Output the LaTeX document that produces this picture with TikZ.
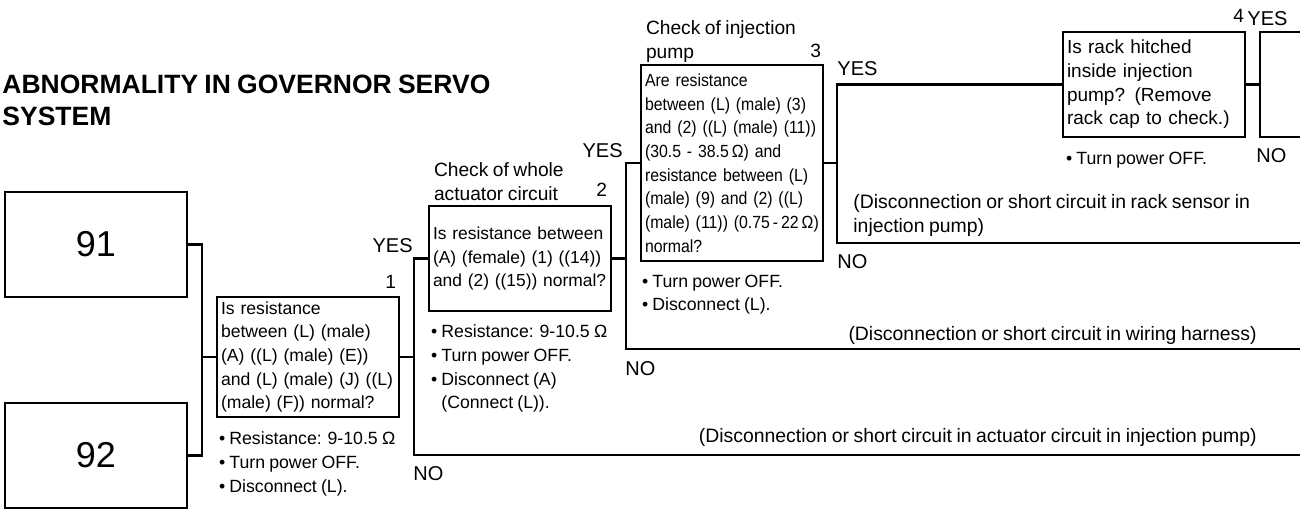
\documentclass[tikz,border=0pt]{standalone}
\usepackage{fontspec}
\setmainfont{Liberation Sans}[WordSpace=0.85]
\usetikzlibrary{positioning}

\tikzstyle{codebox} = [rectangle, minimum width=91pt, minimum height=52.5pt, draw=black, line width=1.4pt, font=\fontsize{18}{20}\selectfont]
\tikzstyle{checkbox} = [rectangle, text width=87pt, inner xsep=2pt, inner ysep=0pt, align=left, draw=black, line width=1.4pt]
\tikzstyle{note} = [anchor=north west, inner sep=0pt, align=left, font=\fontsize{8.85}{11.85}\selectfont]
\tikzstyle{heading} = [anchor=south west, inner sep=0pt, align=left, font=\fontsize{9.6}{12}\selectfont]
\tikzstyle{num} = [anchor=base east, inner sep=0pt, font=\fontsize{9.6}{12}\selectfont]
\tikzstyle{answer} = [inner sep=0pt, font=\fontsize{10}{12}\selectfont]
\tikzstyle{result} = [inner sep=0pt, align=left, font=\fontsize{9.7}{11.85}\selectfont]
\tikzstyle{wire} = [line width=1.4pt]

\begin{document}
\begin{tikzpicture}[x=0.5pt, y=-0.5pt]
\useasboundingbox (0,0) rectangle (1300,509);

% Define nodes
\node (title) [anchor=north west, inner sep=0pt, align=left, font=\fontsize{13.25}{15.85}\selectfont\bfseries] at (2,75) {ABNORMALITY IN GOVERNOR SERVO\\SYSTEM};
\node (c91) [codebox] at (96,244.5) {91};
\node (c92) [codebox] at (96,455.5) {92};

\node (q1) [checkbox, minimum height=60pt, font=\fontsize{8.8}{11.85}\selectfont] at (308,357) {Is resistance\\between (L) (male)\\(A) ((L) (male) (E))\\and (L) (male) (J) ((L)\\(male) (F)) normal?};
\node (q2) [checkbox, minimum height=52.5pt, font=\fontsize{8.7}{11.85}\selectfont] at (520,258.5) {Is resistance between\\(A) (female) (1) ((14))\\and (2) ((15)) normal?};
\node (q3) [checkbox, minimum height=98pt, font=\fontsize{8.8}{11.85}\selectfont\addfontfeature{FakeStretch=0.9}] at (732,163) {Are resistance\\between (L) (male) (3)\\and (2) ((L) (male) (11))\\(30.5 - 38.5\,Ω) and\\resistance between (L)\\(male) (9) and (2) ((L)\\(male) (11)) (0.75\,-\,22\,Ω)\\normal?};
\node (q4) [checkbox, minimum height=52.5pt, font=\fontsize{9.5}{11.85}\selectfont] at (1154,84.5) {Is rack hitched\\inside injection\\pump? (Remove\\rack cap to check.)};

\node (k1) [num] at ([xshift=-2pt,yshift=3.8pt]q1.north east) {1};
\node (k2) [num] at ([xshift=-2.5pt,yshift=4pt]q2.north east) {2};
\node (k3) [num] at ([xshift=-1.5pt,yshift=3pt]q3.north east) {3};
\node (k4) [num] at ([xshift=-1pt,yshift=4pt]q4.north east) {4};

\node (h2) [heading] at ([xshift=3pt,yshift=1.8pt]q2.north west) {Check of whole\\actuator circuit};
\node (h3) [heading] at ([xshift=3pt,yshift=0.3pt]q3.north west) {Check of injection\\pump};

\node (b1) [note] at ([xshift=1.5pt,yshift=-6.5pt]q1.south west) {• Resistance: 9-10.5 Ω\\• Turn power OFF.\\• Disconnect (L).};
\node (b2) [note] at ([xshift=1.5pt,yshift=-6pt]q2.south west) {• Resistance: 9-10.5 Ω\\• Turn power OFF.\\• Disconnect (A)\\\hphantom{• }(Connect (L)).};
\node (b3) [note] at ([xshift=1pt,yshift=-6pt]q3.south west) {• Turn power OFF.\\• Disconnect (L).};
\node (b4) [note] at ([xshift=2pt,yshift=-6.5pt]q4.south west) {• Turn power OFF.};

\node (yes1) [answer, anchor=base east] at (413,252) {YES};
\node (no1) [answer, anchor=base west] at (413,480) {NO};
\node (yes2) [answer, anchor=base east] at (623,157) {YES};
\node (no2) [answer, anchor=base west] at (625,375) {NO};
\node (yes3) [answer, anchor=base west] at (837,75) {YES};
\node (no3) [answer, anchor=base west] at (837,268) {NO};
\node (yes4) [answer, anchor=base west] at (1247,25) {YES};
\node (no4) [answer, anchor=base west] at (1256,162) {NO};

\node (r3) [result, anchor=north west] at (853,194) {(Disconnection or short circuit in rack sensor in\\injection pump)};
\node (r2) [result, anchor=base east] at (1257,340) {(Disconnection or short circuit in wiring harness)};
\node (r1) [result, anchor=base east] at (1257,442) {(Disconnection or short circuit in actuator circuit in injection pump)};

% Forks and free ends
\coordinate (f0) at (202,357);
\coordinate (f1) at (414,455);
\coordinate (f2) at (626,349);
\coordinate (f3) at (837,243);
\coordinate (f4) at (1260,32);
\coordinate (f4b) at (1260,137);
\coordinate (e1) at (1300,455);
\coordinate (e2) at (1300,349);
\coordinate (e3) at (1300,243);
\coordinate (e4) at (1300,32);
\coordinate (e4b) at (1300,137);

% Draw lines
\draw [wire] (c91.east) -| (f0);
\draw [wire] (c92.east) -| (f0) -- (q1.west);
\draw [wire] (q1.east) -- (q1.east -| f1);
\draw [wire] (q2.west) -| (f1) -- (e1);
\draw [wire] (q2.east) -- (q2.east -| f2);
\draw [wire] (q3.west) -| (f2) -- (e2);
\draw [wire] (q3.east) -- (q3.east -| f3);
\draw [wire] (q4.west) -| (f3) -- (e3);
\draw [wire] (q4.east) -- (q4.east -| f4);
\draw [wire] (e4) -- (f4) -- (f4b) -- (e4b);

\end{tikzpicture}
\end{document}
